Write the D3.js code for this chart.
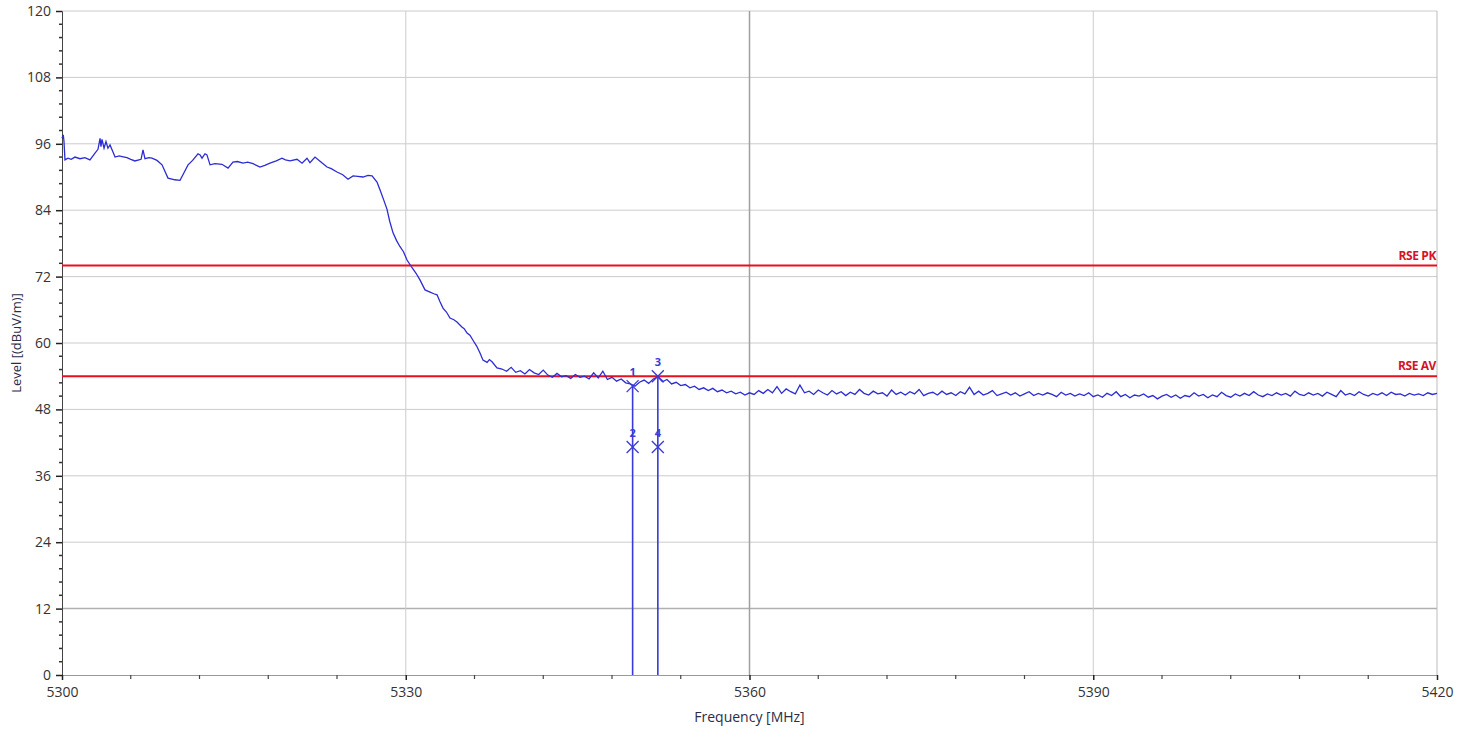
<!DOCTYPE html>
<html><head><meta charset="utf-8">
<script src="https://cdn.jsdelivr.net/npm/d3@7"></script>
<style>body{margin:0;background:#fff}svg{display:block}</style>
</head><body><svg id="c" width="1469" height="729"></svg>
<script>
// ---- data ----
const xTicks = [5300, 5330, 5360, 5390, 5420];
const yTicks = [0, 12, 24, 36, 48, 60, 72, 84, 96, 108, 120];
const limitNames = ["RSE PK", "RSE AV"];
const limitLevels = [74, 54];
const markerIds = ["1", "2", "3", "4"];
const markerFreqs = [5349.8, 5349.8, 5352.0, 5352.0];
const markerLevels = [52.2, 41.2, 54.0, 41.2];
const trace = [
[5300.0,97.0],[5300.11,97.6],[5300.17,96.5],[5300.26,93.1],[5300.52,93.4],[5300.8,93.2],[5301.13,93.6],[5301.57,93.3],
[5302.0,93.5],[5302.44,93.1],[5302.88,94.3],[5303.14,95.0],[5303.32,97.0],[5303.4,95.5],[5303.49,96.8],[5303.67,95.2],
[5303.84,96.4],[5304.01,95.2],[5304.19,95.8],[5304.45,94.5],[5304.63,93.6],[5305.0,93.8],[5305.24,93.7],[5305.67,93.5],
[5306.0,93.2],[5306.37,92.9],[5306.9,93.2],[5307.07,94.9],[5307.24,93.3],[5307.6,93.5],[5307.85,93.4],[5308.29,93.0],
[5308.73,92.2],[5309.25,89.8],[5309.86,89.5],[5310.3,89.4],[5310.6,90.6],[5311.0,92.2],[5311.4,93.0],[5311.87,94.2],
[5312.05,94.0],[5312.22,93.4],[5312.48,94.2],[5312.65,94.0],[5312.92,92.2],[5313.35,92.4],[5313.96,92.3],[5314.49,91.6],
[5314.92,92.7],[5315.3,92.8],[5315.8,92.5],[5316.2,92.7],[5316.67,92.4],[5317.28,91.8],[5317.7,92.1],[5318.15,92.5],
[5318.7,92.9],[5319.2,93.4],[5319.5,93.1],[5319.9,92.9],[5320.51,93.2],[5320.95,92.5],[5321.38,93.4],[5321.64,92.6],
[5322.08,93.6],[5322.6,92.7],[5323.13,91.8],[5323.5,91.5],[5324.0,90.9],[5324.5,90.4],[5324.96,89.6],[5325.4,90.2],
[5325.8,90.1],[5326.27,90.0],[5326.7,90.3],[5327.06,90.2],[5327.49,89.1],[5327.75,87.7],[5328.05,86.0],[5328.36,84.2],
[5328.6,82.0],[5328.89,79.9],[5329.2,78.5],[5329.5,77.4],[5329.8,76.5],[5330.11,75.0],[5330.55,73.6],[5330.9,72.6],
[5331.24,71.4],[5331.68,69.6],[5332.12,69.2],[5332.45,68.9],[5332.73,68.7],[5333.0,67.4],[5333.25,66.3],[5333.55,65.6],
[5333.86,64.5],[5334.2,64.2],[5334.47,63.8],[5334.9,62.9],[5335.1,62.6],[5335.35,61.8],[5335.6,61.4],[5335.87,60.5],
[5336.2,59.4],[5336.48,58.2],[5336.74,56.9],[5337.1,56.5],[5337.3,57.0],[5337.53,56.6],[5337.96,55.5],
[5338.4,55.3],[5338.8,54.9],[5339.2,55.6],[5339.6,54.7],[5340.0,55.0],[5340.4,54.4],[5340.8,55.2],[5341.2,54.6],[5341.6,54.3],[5342.0,55.1],
[5342.4,54.2],[5342.8,53.8],[5343.2,54.5],[5343.6,53.9],[5344.0,54.1],[5344.4,53.6],[5344.8,54.3],[5345.2,53.8],[5345.6,54.0],[5346.0,53.5],
[5346.4,54.6],[5346.8,53.7],[5347.2,54.9],[5347.6,53.4],[5348.0,53.8],[5348.4,53.1],[5348.8,53.5],[5349.2,52.8],[5349.6,52.6],[5350.0,52.2],
[5350.4,52.9],[5350.8,53.3],[5351.2,52.7],[5351.6,53.5],[5352.0,53.9],[5352.4,53.0],[5352.8,53.4],[5353.2,52.6],[5353.6,52.9],[5354.0,52.3],
[5354.4,52.5],[5354.8,51.9],[5355.2,52.2],[5355.6,51.6],[5356.0,51.9],[5356.4,51.4],[5356.8,51.8],[5357.2,51.2],[5357.6,51.5],[5358.0,51.0],
[5358.4,51.3],[5358.8,50.8],[5359.2,51.1],[5359.6,50.6],[5360.0,51.0],[5360.4,50.7],[5360.8,51.4],[5361.2,50.9],[5361.6,51.6],[5362.0,51.0],
[5362.4,52.1],[5362.8,50.9],[5363.2,51.7],[5363.6,51.2],[5364.0,50.8],[5364.4,52.4],[5364.8,51.0],[5365.2,51.3],[5365.6,50.7],[5366.0,51.5],
[5366.4,51.0],[5366.8,50.6],[5367.2,51.4],[5367.6,50.8],[5368.0,51.2],[5368.4,50.5],[5368.8,51.1],[5369.2,50.7],[5369.6,51.6],[5370.0,50.9],
[5370.4,50.6],[5370.8,51.3],[5371.2,50.8],[5371.6,51.0],[5372.0,50.4],[5372.4,51.5],[5372.8,50.7],[5373.2,51.1],[5373.6,50.6],[5374.0,51.2],
[5374.4,50.8],[5374.8,51.6],[5375.2,50.5],[5375.6,50.9],[5376.0,51.1],[5376.4,50.6],[5376.8,51.3],[5377.2,50.7],[5377.6,51.0],[5378.0,50.5],
[5378.4,51.2],[5378.8,50.8],[5379.2,52.0],[5379.6,50.7],[5380.0,51.3],[5380.4,50.6],[5380.8,50.9],[5381.2,51.4],[5381.6,50.5],[5382.0,50.8],
[5382.4,51.1],[5382.8,50.6],[5383.2,51.0],[5383.6,50.4],[5384.0,50.8],[5384.4,51.2],[5384.8,50.5],[5385.2,50.9],[5385.6,50.6],[5386.0,51.0],
[5386.4,50.7],[5386.8,50.3],[5387.2,51.1],[5387.6,50.6],[5388.0,50.9],[5388.4,50.4],[5388.8,50.8],[5389.2,50.5],[5389.6,51.0],[5390.0,50.3],
[5390.4,50.6],[5390.8,50.2],[5391.2,50.9],[5391.6,50.5],[5392.0,51.2],[5392.4,50.3],[5392.8,50.7],[5393.2,50.1],[5393.6,50.6],[5394.0,50.4],
[5394.4,50.8],[5394.8,50.2],[5395.2,50.5],[5395.6,49.9],[5396.0,50.4],[5396.4,50.7],[5396.8,50.2],[5397.2,50.6],[5397.6,50.0],[5398.0,50.5],
[5398.4,50.3],[5398.8,51.0],[5399.2,50.4],[5399.6,50.7],[5400.0,50.1],[5400.4,50.6],[5400.8,50.3],[5401.2,51.1],[5401.6,50.5],[5402.0,50.2],
[5402.4,50.8],[5402.8,50.4],[5403.2,50.9],[5403.6,50.5],[5404.0,51.2],[5404.4,50.6],[5404.8,50.3],[5405.2,50.8],[5405.6,50.5],[5406.0,51.0],
[5406.4,50.6],[5406.8,50.9],[5407.2,50.4],[5407.6,51.3],[5408.0,50.7],[5408.4,50.5],[5408.8,51.0],[5409.2,50.6],[5409.6,50.9],[5410.0,50.4],
[5410.4,51.1],[5410.8,50.7],[5411.2,50.3],[5411.6,51.4],[5412.0,50.6],[5412.4,50.9],[5412.8,50.5],[5413.2,51.2],[5413.6,50.7],[5414.0,50.4],
[5414.4,50.9],[5414.8,50.6],[5415.2,51.0],[5415.6,50.5],[5416.0,51.1],[5416.4,50.7],[5416.8,50.8],[5417.2,50.4],[5417.6,50.9],[5418.0,50.6],
[5418.4,50.8],[5418.8,50.5],[5419.2,51.0],[5419.6,50.7],[5420.0,50.9]
];

// ---- layout ----
const L = 62, R = 1437, T = 11, B = 675;
const svg = d3.select("#c");
const x = d3.scaleLinear().domain([5300, 5420]).range([L, R]);
const y = d3.scaleLinear().domain([0, 120]).range([B, T]);
const font = "'Open Sans', 'Noto Sans', sans-serif";

// gridlines
const grid = svg.append("g");
grid.selectAll("line.h").data(yTicks.filter(v => v > 0)).join("line")
  .attr("x1", L).attr("x2", R).attr("y1", d => y(d)).attr("y2", d => y(d))
  .attr("stroke", d => d === 12 ? "#b0b0b0" : "#cccccc").attr("stroke-width", d => d === 12 ? 1.5 : 1);
grid.selectAll("line.v").data(xTicks.filter(v => v > 5300)).join("line")
  .attr("x1", d => x(d)).attr("x2", d => x(d)).attr("y1", T).attr("y2", B)
  .attr("stroke", d => d === 5360 ? "#a0a0a0" : (d === 5420 ? "#bbbbbb" : "#cccccc"))
  .attr("stroke-width", d => d === 5360 ? 1.5 : 1);

// y axis
const yAxis = d3.axisLeft(y).tickValues(yTicks).tickSize(6).tickPadding(5).tickFormat(d3.format("d"));
const gy = svg.append("g").attr("transform", `translate(${L},0)`).call(yAxis);
gy.select(".domain").attr("stroke", "#444");
gy.selectAll(".tick line").attr("stroke", "#222").attr("stroke-width", 1.5);
gy.selectAll("text").attr("font-family", font).attr("font-size", 14).attr("fill", "#333");
const yMinor = d3.range(0, 121, 2.4).filter(v => Math.abs(v % 12) > 0.01 && Math.abs(v % 12 - 12) > 0.01);
svg.append("g").selectAll("line").data(yMinor).join("line")
  .attr("x1", L - 3).attr("x2", L).attr("y1", d => y(d)).attr("y2", d => y(d))
  .attr("stroke", "#333").attr("stroke-width", 1.5);

// x axis
const xAxis = d3.axisBottom(x).tickValues(xTicks).tickSize(5).tickPadding(7).tickFormat(d3.format("d"));
const gx = svg.append("g").attr("transform", `translate(0,${B})`).call(xAxis);
gx.select(".domain").attr("stroke", "#999");
gx.selectAll(".tick line").attr("stroke", "#222").attr("stroke-width", 1.5);
gx.selectAll("text").attr("font-family", font).attr("font-size", 14).attr("fill", "#333");
const xMinor = d3.range(5306, 5420, 6).filter(v => (v - 5300) % 30 !== 0);
svg.append("g").selectAll("line").data(xMinor).join("line")
  .attr("x1", d => x(d)).attr("x2", d => x(d)).attr("y1", B).attr("y2", B + 4)
  .attr("stroke", "#444").attr("stroke-width", 1.2);

// axis titles
svg.append("text").attr("x", (L + R) / 2).attr("y", 722).attr("text-anchor", "middle")
  .attr("font-family", font).attr("font-size", 14).attr("fill", "#2c2c48").text("Frequency [MHz]");
svg.append("text").attr("transform", `translate(21,${(T + B) / 2}) rotate(-90)`).attr("text-anchor", "middle")
  .attr("font-family", font).attr("font-size", 13).attr("fill", "#2c2c48").text("Level [(dBuV/m)]");

// limit lines
limitLevels.forEach((lv, i) => {
  svg.append("line").attr("x1", L).attr("x2", R).attr("y1", y(lv)).attr("y2", y(lv))
    .attr("stroke", "#e8101c").attr("stroke-width", 2);
  svg.append("text").attr("x", R - 1).attr("y", y(lv) - 6).attr("text-anchor", "end")
    .attr("font-family", font).attr("font-weight", "bold").attr("font-size", 12)
    .attr("letter-spacing", -0.4).attr("fill", "#d8102a").text(limitNames[i]);
});

// trace
const line = d3.line().x(d => x(d[0])).y(d => y(d[1]));
svg.append("path").datum(trace).attr("d", line).attr("fill", "none")
  .attr("stroke", "#2c2cd4").attr("stroke-width", 1.3);

// marker stems
[0, 2].forEach(i => {
  svg.append("line").attr("x1", x(markerFreqs[i])).attr("x2", x(markerFreqs[i]))
    .attr("y1", y(markerLevels[i])).attr("y2", y(0))
    .attr("stroke", "#3a3ad8").attr("stroke-width", 1.6);
});
// markers
markerIds.forEach((id, i) => {
  const cx = x(markerFreqs[i]), cy = y(markerLevels[i]), s = 6;
  svg.append("path").attr("d", `M${cx - s},${cy - s}L${cx + s},${cy + s}M${cx - s},${cy + s}L${cx + s},${cy - s}`)
    .attr("stroke", "#3a3ad8").attr("stroke-width", 1.3).attr("fill", "none");
  svg.append("text").attr("x", cx).attr("y", cy - 10).attr("text-anchor", "middle")
    .attr("font-family", font).attr("font-weight", "bold").attr("font-size", 11).attr("fill", "#3a3ad8").text(id);
});
</script></body></html>
